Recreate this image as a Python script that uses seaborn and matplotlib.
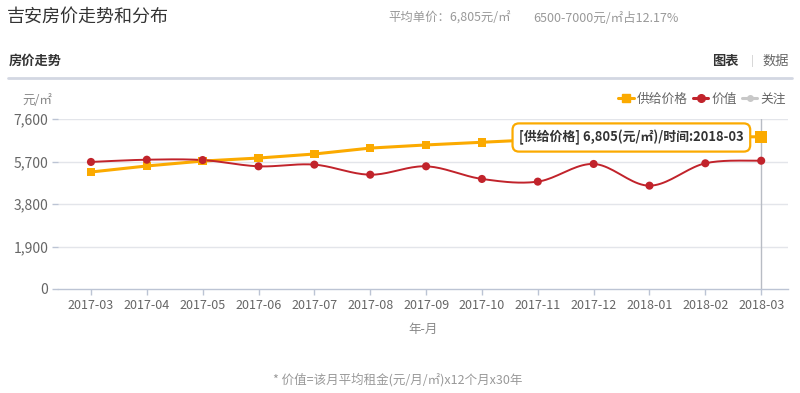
import numpy as np
import pandas as pd
import matplotlib
matplotlib.use("Agg")
import matplotlib.pyplot as plt
from matplotlib.lines import Line2D
import seaborn as sns

months = ["2017-03", "2017-04", "2017-05", "2017-06", "2017-07", "2017-08", "2017-09",
          "2017-10", "2017-11", "2017-12", "2018-01", "2018-02", "2018-03"]
supply_price = [5230, 5500, 5720, 5855, 6035, 6300, 6440, 6560, 6680, 6750, 6780, 6800, 6805]
value = [5680, 5780, 5765, 5485, 5560, 5110, 5485, 4920, 4800, 5590, 4620, 5620, 5735]
y_ticks = [0, 1900, 3800, 5700, 7600]

sns.set_theme(style="white")
plt.rcParams['font.family'] = ['Noto Sans CJK SC', 'DejaVu Sans']

ORANGE = "#fbaa00"
RED = "#c1232b"
GRAY = "#666666"

df = pd.DataFrame({"idx": np.arange(len(months)), "month": months,
                   "supply": supply_price, "value": value})

W, H = 800, 393
fig = plt.figure(figsize=(W / 100, H / 100), dpi=100)
ax = fig.add_axes([58 / W, (H - 289) / H, 730 / W, 170 / H])


def catmull(x, y, n=20):
    x = np.asarray(x, float); y = np.asarray(y, float)
    px = np.concatenate([[x[0]], x, [x[-1]]]); py = np.concatenate([[y[0]], y, [y[-1]]])
    xs, ys = [], []
    t = np.linspace(0, 1, n, endpoint=False)
    for i in range(1, len(px) - 2):
        p0, p1, p2, p3 = py[i - 1], py[i], py[i + 1], py[i + 2]
        q0, q1, q2, q3 = px[i - 1], px[i], px[i + 1], px[i + 2]
        for (a0, a1, a2, a3, out) in ((q0, q1, q2, q3, xs), (p0, p1, p2, p3, ys)):
            out.extend(0.5 * ((2 * a1) + (-a0 + a2) * t + (2 * a0 - 5 * a1 + 4 * a2 - a3) * t ** 2
                              + (-a0 + 3 * a1 - 3 * a2 + a3) * t ** 3))
    xs.append(x[-1]); ys.append(y[-1])
    return np.array(xs), np.array(ys)


# gridlines
for yt in y_ticks[1:]:
    ax.axhline(yt, color="#e3e5ea", lw=1, zorder=0)

# vertical pointer line at last month
ax.axvline(len(months) - 1, color="#b8bcc4", lw=1, zorder=1)

# supply price line
sns.lineplot(data=df, x="idx", y="supply", ax=ax, color=ORANGE, lw=2.2, zorder=3)
sns.scatterplot(data=df.iloc[:-1], x="idx", y="supply", ax=ax, color=ORANGE, marker="s",
                s=38, edgecolor="none", zorder=4)
ax.scatter([df["idx"].iloc[-1]], [df["supply"].iloc[-1]], marker="s", s=80, color=ORANGE,
           edgecolor="none", zorder=5)

# value line (smooth)
sx, sy = catmull(df["idx"], df["value"])
ax.plot(sx, sy, color=RED, lw=1.4, zorder=3)
sns.scatterplot(data=df, x="idx", y="value", ax=ax, color=RED, marker="o", s=34,
                edgecolor="none", zorder=4)

ax.set_xlim(-0.59, 12.48)
ax.set_ylim(0, 7600)
ax.set_xticks(range(len(months)))
ax.set_xticklabels(months)
ax.set_yticks(y_ticks)
ax.set_yticklabels([f"{v:,}" for v in y_ticks])
ax.tick_params(axis="x", colors="#bcc4d4", labelcolor=GRAY, labelsize=9, length=4, width=1, pad=3,
               direction="out", bottom=True)
ax.tick_params(axis="y", colors="#bcc4d4", labelcolor=GRAY, labelsize=10, length=4, width=1, pad=3,
               left=True)
ax.set_xlabel("年-月", color="#888888", fontsize=9, labelpad=8)
ax.set_ylabel("")
for s in ["top", "right", "left"]:
    ax.spines[s].set_visible(False)
ax.spines["bottom"].set_color("#bcc4d4")
ax.spines["bottom"].set_linewidth(1)
ax.patch.set_alpha(0)

# tooltip
ax.text((519 - 58) / 730, (289 - 137.5) / 170, "[供给价格] 6,805(元/㎡)/时间:2018-03",
        transform=ax.transAxes, ha="left", va="center", fontsize=9.3, fontweight="bold",
        color="#333333", zorder=10,
        bbox=dict(boxstyle="round,pad=0.5,rounding_size=0.5", fc="white", ec=ORANGE, lw=1.6))

# legend
handles = [Line2D([], [], color=ORANGE, lw=2.2, marker="s", ms=6),
           Line2D([], [], color=RED, lw=2.2, marker="o", ms=5.5),
           Line2D([], [], color="#c8c8c8", lw=2.2, marker="o", ms=4)]
leg = fig.legend(handles, ["供给价格", "价值", "关注"], loc="center right",
                 bbox_to_anchor=(795 / W, 1 - 99 / H), ncol=3, frameon=False, fontsize=9.2,
                 handlelength=1.2, handletextpad=0.25, columnspacing=0.4, borderpad=0.2)
for t in leg.get_texts():
    t.set_color(GRAY)

# header texts
fig.text(7 / W, 1 - 17 / H, "吉安房价走势和分布", fontsize=13, color="#333333", va="center", ha="left")
fig.text(388 / W, 1 - 18 / H, "平均单价：6,805元/㎡", fontsize=8.9, color="#999999", va="center", ha="left")
fig.text(533 / W, 1 - 18 / H, "6500-7000元/㎡占12.17%", fontsize=9.0, color="#999999", va="center", ha="left")
fig.text(9 / W, 1 - 61 / H, "房价走势", fontsize=9.5, fontweight="bold", color="#333333", va="center", ha="left")
fig.text(739 / W, 1 - 61 / H, "图表", fontsize=9.5, fontweight="bold", color="#333333", va="center", ha="right")
fig.text(752 / W, 1 - 61 / H, "|", fontsize=8, color="#cccccc", va="center", ha="center")
fig.text(789 / W, 1 - 61 / H, "数据", fontsize=9.5, color="#666666", va="center", ha="right")
fig.add_artist(Line2D([8 / W, 792 / W], [1 - 78 / H, 1 - 78 / H], color="#d3d7e2", lw=2))
fig.text(37 / W, 1 - 100 / H, "元/㎡", fontsize=9, color="#888888", va="center", ha="center")
fig.text(398 / W, 1 - 380 / H, "* 价值=该月平均租金(元/月/㎡)x12个月x30年", fontsize=9, color="#999999",
         va="center", ha="center")

fig.savefig("out.png", dpi=100, facecolor="white")
